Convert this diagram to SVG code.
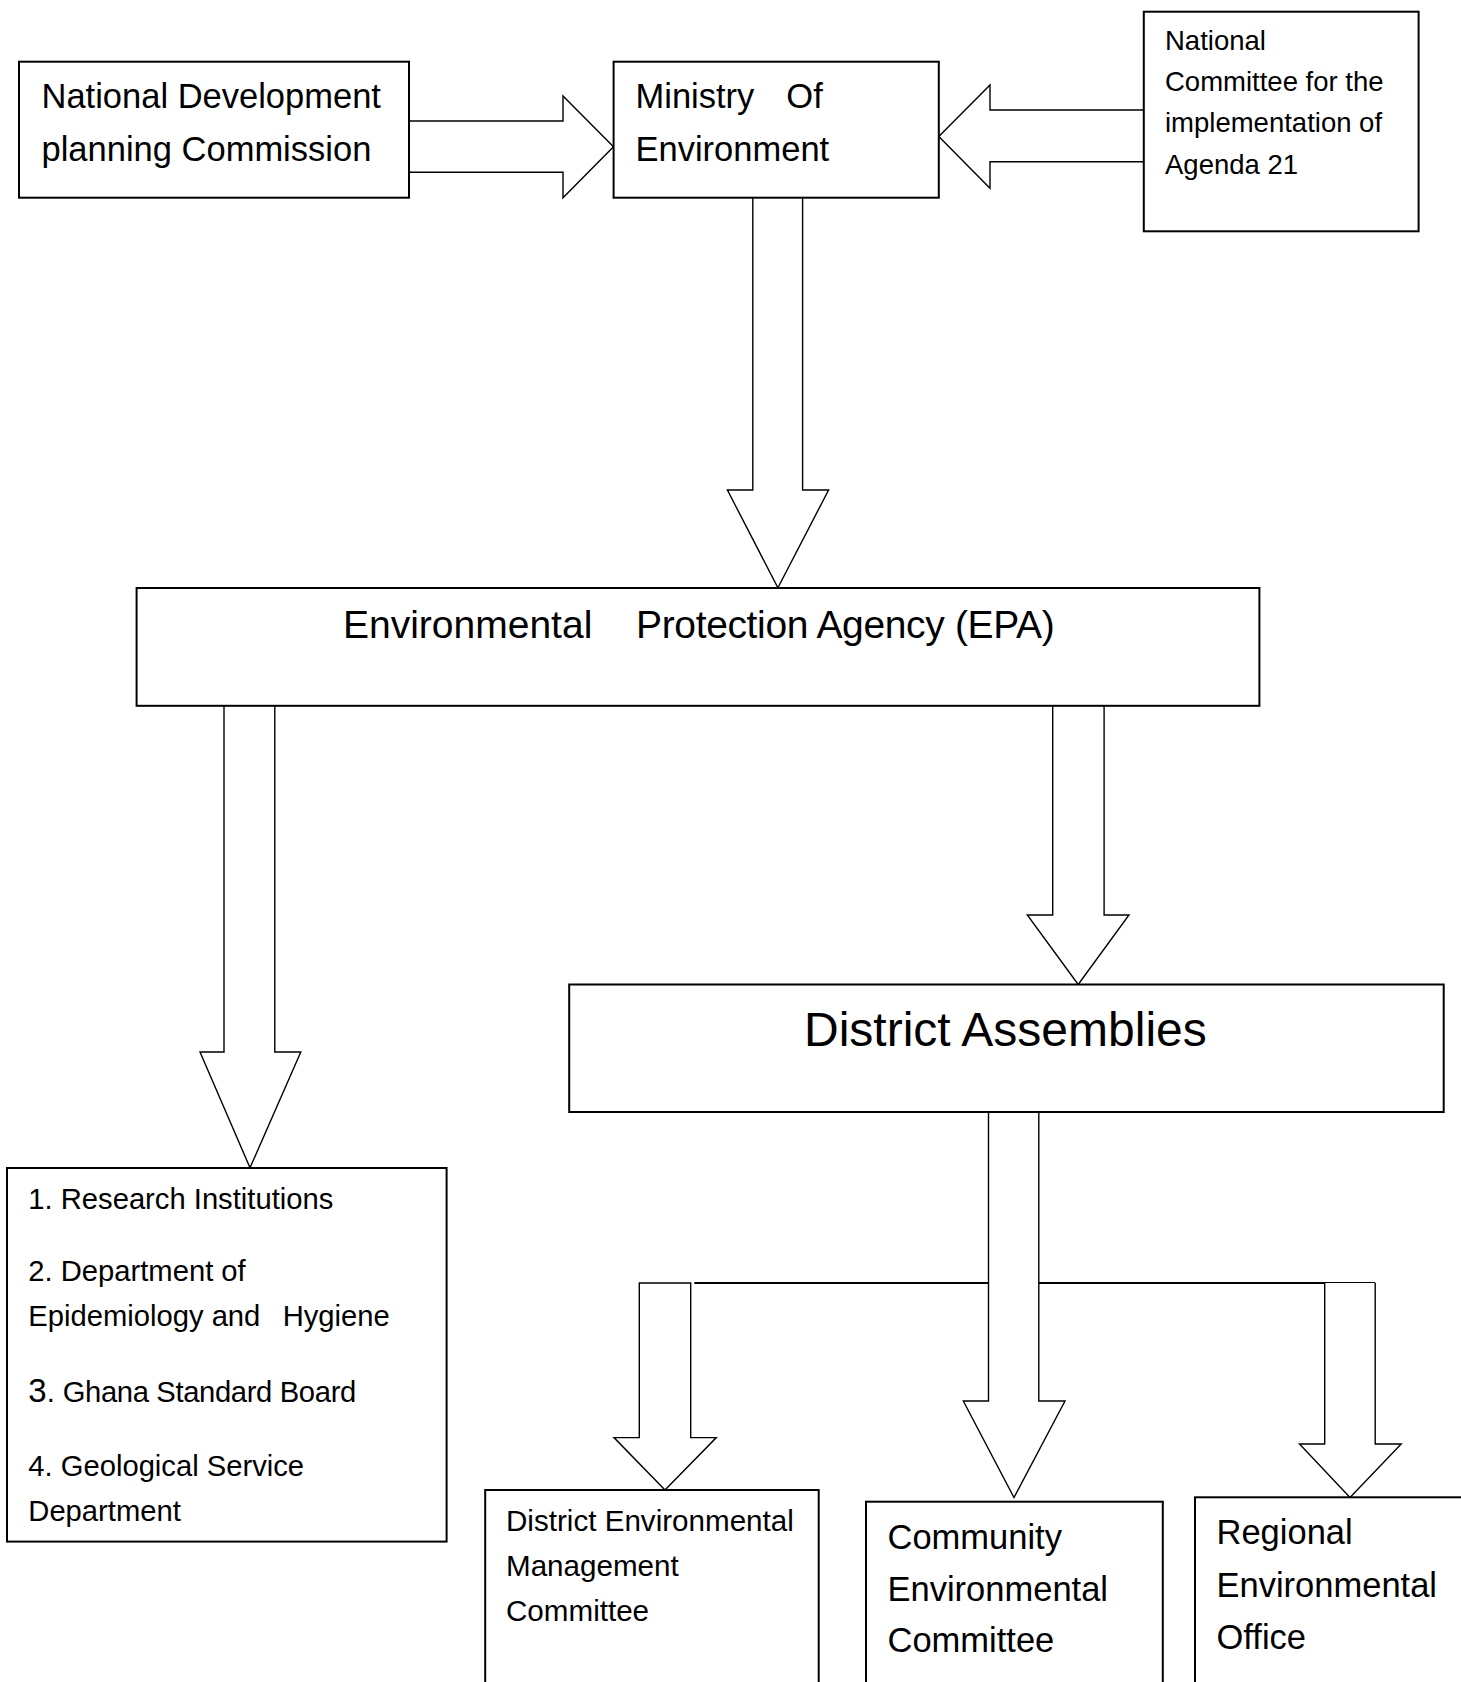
<svg xmlns="http://www.w3.org/2000/svg" width="1461" height="1682" viewBox="0 0 1461 1682">
<style>
  .box { fill: #ffffff; stroke: #000000; stroke-width: 2; }
  .arrow { fill: #ffffff; stroke: #000000; stroke-width: 1.4; stroke-linejoin: miter; }
  .line { fill: none; stroke: #000000; stroke-width: 2; }
  text { font-family: "Liberation Sans", Arial, sans-serif; fill: #000000; }
  .t345 { font-size: 34.5px; }
  .t275 { font-size: 27.5px; }
  .t29 { font-size: 29.2px; }
</style>
<rect x="0" y="0" width="1461" height="1682" fill="#ffffff"/>

<g id="connectors">
  <path class="arrow" d="M409,121 L563,121 L563,96 L613.5,146.7 L563,197.7 L563,172.3 L409,172.3"/>
  <path class="arrow" d="M1143.8,110 L990,110 L990,85 L938.8,136.5 L990,188.3 L990,161.7 L1143.8,161.7"/>
  <path class="arrow" d="M752.8,197.7 L752.8,490 L727.4,490 L777.9,587.8 L828.6,490 L802.6,490 L802.6,197.7"/>
  <path class="arrow" d="M224,705.8 L224,1052 L200,1052 L250,1167.8 L300.8,1052 L274.8,1052 L274.8,705.8"/>
  <path class="arrow" d="M1052.7,705.8 L1052.7,915 L1027.3,915 L1078.2,984.5 L1129,915 L1104.1,915 L1104.1,705.8"/>
  <path class="arrow" d="M988.5,1112 L988.5,1401 L963.3,1401 L1014,1497.6 L1065,1401 L1038.8,1401 L1038.8,1112"/>
  <path class="line" d="M694.3,1283 L988.5,1283"/>
  <path class="line" d="M1038.8,1283 L1375.2,1283"/>
  <path class="arrow" d="M690.7,1283 L639.3,1283 L639.3,1437.6 L614,1437.6 L665,1490 L716.3,1437.6 L690.7,1437.6 Z"/>
  <path class="arrow" d="M1324.7,1283 L1324.7,1444 L1299.5,1444 L1350,1497.4 L1401.2,1444 L1375.2,1444 L1375.2,1283"/>
</g>

<g id="ndpc">
  <rect class="box" x="19" y="61.7" width="390" height="136"/>
  <text class="t345" x="41.5" y="108.3">National Development</text>
  <text class="t345" x="41.5" y="161">planning Commission</text>
</g>

<g id="moe">
  <rect class="box" x="613.6" y="61.7" width="325.2" height="136"/>
  <text class="t345" y="108.3"><tspan x="635.5">Ministry</tspan><tspan x="786.3">Of</tspan></text>
  <text class="t345" x="635.5" y="161">Environment</text>
</g>

<g id="ncia21">
  <rect class="box" x="1143.8" y="11.7" width="274.8" height="219.6"/>
  <text class="t275" x="1165" y="49.5">National</text>
  <text class="t275" x="1165" y="91">Committee for the</text>
  <text class="t275" x="1165" y="132">implementation of</text>
  <text class="t275" x="1165" y="174">Agenda 21</text>
</g>

<g id="epa">
  <rect class="box" x="136.6" y="588" width="1122.8" height="117.8"/>
  <text style="font-size:39px" y="638.3"><tspan x="343">Environmental</tspan><tspan x="636" letter-spacing="-0.35">Protection Agency (EPA)</tspan></text>
</g>

<g id="district-assemblies">
  <rect class="box" x="569.2" y="984.5" width="874.5" height="127.5"/>
  <text style="font-size:48px" x="804" y="1045.5">District Assemblies</text>
</g>

<g id="institutions">
  <rect class="box" x="7" y="1168" width="439.6" height="373.6"/>
  <text class="t29" x="28.3" y="1209.3">1. Research Institutions</text>
  <text class="t29" x="28.3" y="1281">2. Department of</text>
  <text class="t29" y="1326"><tspan x="28.3">Epidemiology and</tspan><tspan x="282.7">Hygiene</tspan></text>
  <text class="t29" y="1401.7"><tspan x="28.3" style="font-size:33px">3</tspan><tspan>.</tspan><tspan x="62.7" letter-spacing="-0.35">Ghana Standard Board</tspan></text>
  <text class="t29" x="28.3" y="1476">4. Geological Service</text>
  <text class="t29" x="28.3" y="1520.7">Department</text>
</g>

<g id="demc">
  <rect class="box" x="485.2" y="1490" width="333.5" height="260"/>
  <text class="t29" x="506" y="1530.5" style="font-size:29.6px">District Environmental</text>
  <text class="t29" x="506" y="1575.5" style="font-size:29.6px">Management</text>
  <text class="t29" x="506" y="1620.5" style="font-size:29.6px">Committee</text>
</g>

<g id="cec">
  <rect class="box" x="866" y="1501.7" width="296.8" height="260"/>
  <text class="t345" x="887.5" y="1548.5">Community</text>
  <text class="t345" x="887.5" y="1600.5">Environmental</text>
  <text class="t345" x="887.5" y="1652">Committee</text>
</g>

<g id="reo">
  <rect class="box" x="1195" y="1497.3" width="300" height="260"/>
  <text class="t345" x="1216.5" y="1544">Regional</text>
  <text class="t345" x="1216.5" y="1596.5">Environmental</text>
  <text class="t345" x="1216.5" y="1649">Office</text>
</g>
</svg>
